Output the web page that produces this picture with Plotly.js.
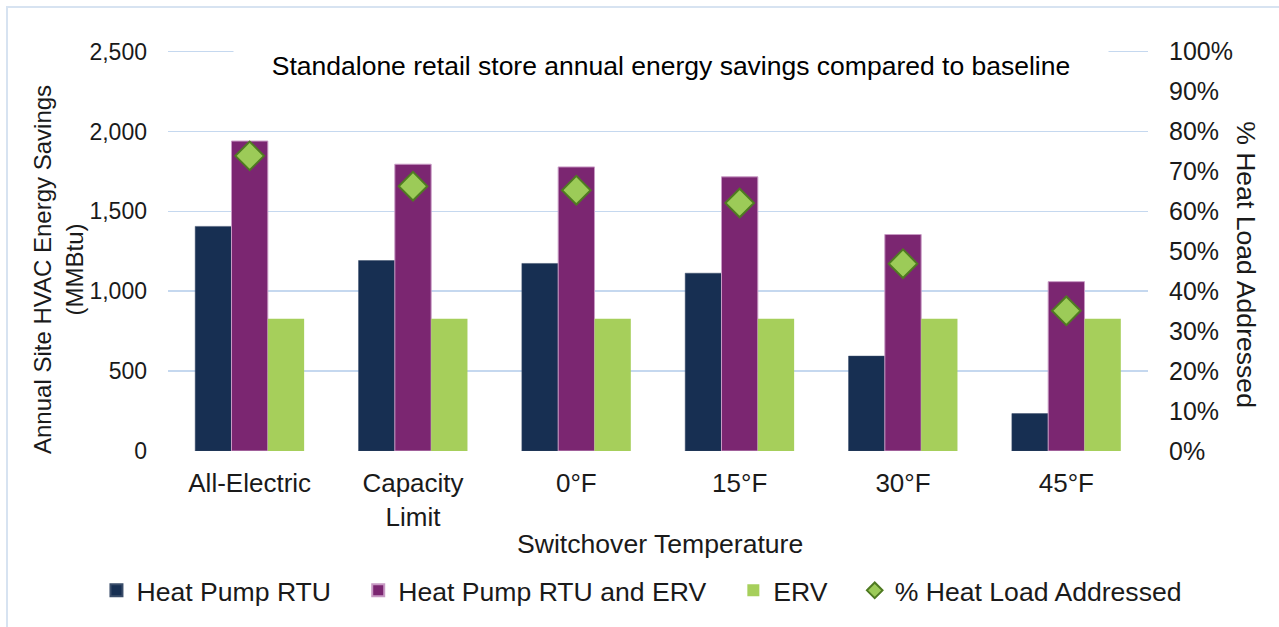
<!DOCTYPE html>
<html>
<head>
<meta charset="utf-8">
<script src="https://cdn.plot.ly/plotly-3.0.1.min.js"></script>
<style>
  html, body { margin: 0; padding: 0; background: #ffffff; }
  #chart { width: 1279px; height: 627px; position: relative; }
  #frame { position: absolute; left: 6px; top: 6px; width: 1300px; height: 700px;
           border-left: 2px solid #d7e3f1; border-top: 2px solid #d7e3f1; pointer-events: none; }
</style>
</head>
<body>
<div id="chart"></div>
<div id="frame"></div>
<script>
const categories = ['All-Electric', 'Capacity<br>Limit', '0°F', '15°F', '30°F', '45°F'];
const heatPumpRTU = [1406, 1192, 1174, 1113, 594, 234];
const heatPumpRTUandERV = [1940, 1795, 1778, 1716, 1355, 1060];
const erv = [828, 828, 828, 828, 828, 828];
const heatLoadAddressed = [0.739, 0.663, 0.653, 0.621, 0.469, 0.351];
const leftTicks = [0, 500, 1000, 1500, 2000, 2500];
const rightTicks = [0, 0.1, 0.2, 0.3, 0.4, 0.5, 0.6, 0.7, 0.8, 0.9, 1.0];

const FONT = 'Liberation Sans, Arial, sans-serif';
const TXT = '#1a1a1a';
const pad = '\u00a0\u00a0\u00a0';

const traces = [
  { type: 'bar', name: 'Heat Pump RTU' + pad, x: categories, y: heatPumpRTU,
    marker: { color: '#172f52', line: { color: '#3a4d6a', width: 0.5 } } },
  { type: 'bar', name: 'Heat Pump RTU and ERV' + pad, x: categories, y: heatPumpRTUandERV,
    marker: { color: '#7b2671', line: { color: '#c89ac4', width: 1 } } },
  { type: 'bar', name: 'ERV' + pad, x: categories, y: erv,
    marker: { color: '#a6cf5b', line: { width: 0 } } },
  { type: 'scatter', mode: 'markers', name: '% Heat Load Addressed', x: categories, y: heatLoadAddressed,
    yaxis: 'y2',
    marker: { symbol: 'diamond', size: 22, color: '#9ccb58', line: { color: '#4f7a22', width: 2 } } }
];

const layout = {
  width: 1279, height: 627,
  margin: { l: 168, r: 131, t: 50, b: 174 },
  paper_bgcolor: '#ffffff', plot_bgcolor: '#ffffff',
  font: { family: FONT, size: 22, color: TXT },
  barmode: 'group', bargap: 0.333, bargroupgap: 0,
  showlegend: true,
  legend: { orientation: 'h', x: -0.073, xanchor: 'left', y: -0.348, yanchor: 'middle',
            font: { family: FONT, size: 26.6, color: TXT }, itemsizing: 'constant',
            traceorder: 'normal', bgcolor: 'rgba(0,0,0,0)' },
  xaxis: { type: 'category', showgrid: false, zeroline: false, showline: false,
           ticks: '', tickfont: { family: FONT, size: 26, color: TXT }, ticklabelstandoff: 14,
           fixedrange: true },
  yaxis: { range: [0, 2510], tickvals: leftTicks, tickformat: ',d',
           showgrid: true, gridcolor: '#c5d8ef', gridwidth: 1.6,
           zeroline: false, showline: false, ticks: '', ticklabelstandoff: 20,
           tickfont: { family: FONT, size: 23, color: TXT } },
  yaxis2: { overlaying: 'y', side: 'right', range: [0, 1.004], tickvals: rightTicks, tickformat: '.0%',
            showgrid: false, zeroline: false, showline: false, ticks: '', ticklabelstandoff: 20,
            tickfont: { family: FONT, size: 25, color: TXT } },
  annotations: [
    { text: 'Standalone retail store annual energy savings compared to baseline',
      xref: 'paper', yref: 'paper', x: 0.513, y: 0.96, xanchor: 'center', yanchor: 'middle',
      showarrow: false, font: { family: FONT, size: 26.5, color: '#000000' },
      bgcolor: '#ffffff', width: 866, borderpad: 4 },
    { text: 'Annual Site HVAC Energy Savings<br>(MMBtu)',
      xref: 'paper', yref: 'paper', x: -0.112, y: 0.452, xanchor: 'center', yanchor: 'middle',
      textangle: -90, showarrow: false, font: { family: FONT, size: 24, color: TXT } },
    { text: '% Heat Load Addressed',
      xref: 'paper', yref: 'paper', x: 1.1, y: 0.466, xanchor: 'center', yanchor: 'middle',
      textangle: 90, showarrow: false, font: { family: FONT, size: 26.6, color: TXT } },
    { text: 'Switchover Temperature',
      xref: 'paper', yref: 'paper', x: 0.502, y: -0.232, xanchor: 'center', yanchor: 'middle',
      showarrow: false, font: { family: FONT, size: 26.6, color: TXT } }
  ]
};

Plotly.newPlot('chart', traces, layout, { displayModeBar: false, staticPlot: true });
</script>
</body>
</html>
